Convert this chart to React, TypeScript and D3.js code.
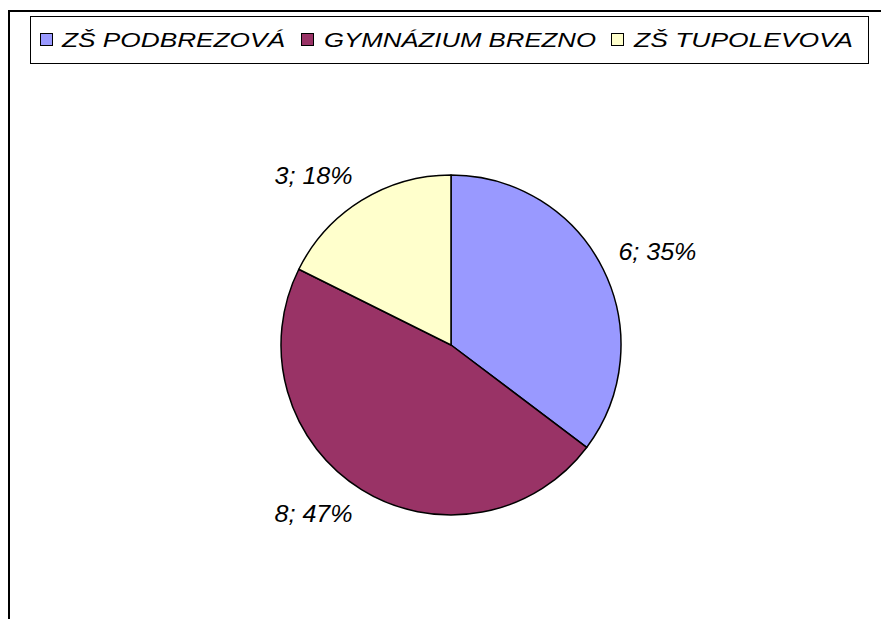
import React, { useEffect, useRef } from "react";
import * as d3 from "d3";

const categories = ["ZŠ PODBREZOVÁ", "GYMNÁZIUM BREZNO", "ZŠ TUPOLEVOVA"];
const values = [6, 8, 3];
const colors = ["#9999FF", "#993366", "#FFFFCC"];

const W = 881;
const H = 619;

export default function App() {
  const ref = useRef<SVGSVGElement>(null);
  useEffect(() => {
    document.body.style.margin = "0";
    document.body.style.overflow = "hidden";
    const svg = d3.select(ref.current);
    svg.selectAll("*").remove();
    const font = "'Liberation Sans', Arial, sans-serif";

    svg.append("rect").attr("width", W).attr("height", H).attr("fill", "white");
    // outer chart border: only left and top edges are visible
    svg.append("path")
      .attr("d", `M9,${H + 5} V11 H${W + 5}`)
      .attr("fill", "none").attr("stroke", "black").attr("stroke-width", 2);

    // pie
    const cx = 451, cy = 345, r = 170;
    const total = d3.sum(values);
    const pie = d3.pie<number>().sort(null).value((d) => d);
    const arcs = pie(values);
    const arc = d3.arc<d3.PieArcDatum<number>>().innerRadius(0).outerRadius(r);
    const g = svg.append("g").attr("transform", `translate(${cx},${cy})`);
    g.selectAll("path.slice").data(arcs).enter().append("path")
      .attr("class", "slice")
      .attr("d", arc as any)
      .attr("fill", (_, i) => colors[i])
      .attr("stroke", "black").attr("stroke-width", 1.5)
      .attr("stroke-linejoin", "round");

    const R = 187;
    arcs.forEach((d) => {
      const a = (d.startAngle + d.endAngle) / 2;
      const px = R * Math.sin(a);
      const py = -R * Math.cos(a);
      const anchor = px >= 0 ? "start" : "end";
      const y = py < 0 ? py - 2 : py + 18;
      g.append("text")
        .attr("x", px).attr("y", y)
        .attr("text-anchor", anchor)
        .attr("font-family", font)
        .attr("font-style", "italic")
        .attr("font-size", 24)
        .attr("textLength", 78)
        .attr("lengthAdjust", "spacingAndGlyphs")
        .attr("fill", "black")
        .text(`${d.data}; ${Math.round((d.data / total) * 100)}%`);
    });

    // legend
    const lg = svg.append("g");
    lg.append("rect")
      .attr("x", 30.5).attr("y", 16.5)
      .attr("width", 838).attr("height", 47)
      .attr("fill", "white").attr("stroke", "black").attr("stroke-width", 1);
    const swatchX = [40, 301, 611];
    const textX = [62, 324, 634];
    const textW = [223, 272, 219];
    categories.forEach((c, i) => {
      lg.append("rect")
        .attr("x", swatchX[i] + 0.5).attr("y", 33.5)
        .attr("width", 12).attr("height", 12)
        .attr("fill", colors[i]).attr("stroke", "black").attr("stroke-width", 1);
      lg.append("text")
        .attr("x", textX[i]).attr("y", 47)
        .attr("font-family", font)
        .attr("font-style", "italic")
        .attr("font-size", 21)
        .attr("textLength", textW[i])
        .attr("lengthAdjust", "spacingAndGlyphs")
        .attr("fill", "black")
        .text(c);
    });
  }, []);

  return (
    <svg
      ref={ref}
      width={W}
      height={H}
      style={{ position: "absolute", left: 0, top: 0, display: "block" }}
    />
  );
}
